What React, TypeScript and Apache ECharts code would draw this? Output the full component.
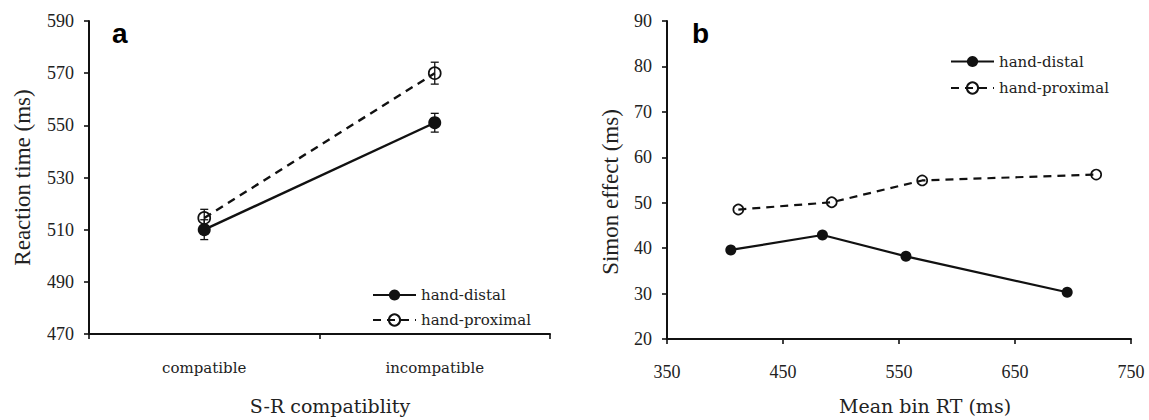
import React, { useEffect, useRef } from "react";
import * as echarts from "echarts";

// Panel a: reaction time by S-R compatibility
const categories = ["compatible", "incompatible"];
const distalRT = [510, 551];
const distalErr = [3.8, 3.6];
const proximalRT = [514.5, 570];
const proximalErr = [3.3, 4.2];

// Panel b: Simon effect by mean bin RT
const distalBinRT = [405, 484, 556, 695];
const distalSimon = [39.6, 42.9, 38.2, 30.3];
const proximalBinRT = [411.5, 492, 570, 720];
const proximalSimon = [48.5, 50.1, 54.9, 56.2];

const seriesNames = ["hand-distal", "hand-proximal"];

const INK = "#111";
const TEXT = "#222";

function errorBarSeries(values: number[], errs: number[]) {
  return {
    type: "custom",
    xAxisIndex: 0,
    yAxisIndex: 0,
    silent: true,
    z: 3,
    data: values.map((v, i) => [i, v, errs[i]]),
    renderItem: (params: any, api: any) => {
      const x = api.value(0);
      const y = api.value(1);
      const e = api.value(2);
      const top = api.coord([x, y + e]);
      const bot = api.coord([x, y - e]);
      const hw = 4;
      const style = { stroke: INK, lineWidth: 1.3 };
      return {
        type: "group",
        children: [
          { type: "line", shape: { x1: top[0], y1: top[1], x2: bot[0], y2: bot[1] }, style },
          { type: "line", shape: { x1: top[0] - hw, y1: top[1], x2: top[0] + hw, y2: top[1] }, style },
          { type: "line", shape: { x1: bot[0] - hw, y1: bot[1], x2: bot[0] + hw, y2: bot[1] }, style },
        ],
      };
    },
  };
}

const axisLine = { show: true, lineStyle: { color: INK, width: 2 } };
const axisTick = { show: true, length: 5, lineStyle: { color: INK, width: 1.6 } };

export default function App() {
  const ref = useRef<HTMLDivElement>(null);
  useEffect(() => {
    if (!ref.current) return;
    const chart = echarts.init(ref.current, undefined, { renderer: "svg" });
    const legendBase = {
      data: seriesNames,
      orient: "vertical",
      itemWidth: 43,
      itemHeight: 14,
      padding: 0,
      selectedMode: false,
      textStyle: { fontFamily: "DejaVu Serif", fontSize: 15, color: TEXT, lineHeight: 14 },
    };
    chart.setOption({
      animation: false,
      backgroundColor: "#fff",
      grid: [
        { left: 89, top: 21, width: 461, height: 316 },
        { left: 667, top: 21, width: 464, height: 321 },
      ],
      legend: [
        { ...legendBase, left: 372, top: 287.5, itemGap: 10 },
        { ...legendBase, left: 950, top: 54, itemGap: 11.5 },
      ],
      xAxis: [
        {
          type: "category",
          gridIndex: 0,
          data: categories,
          boundaryGap: true,
          axisLine,
          axisTick,
          splitLine: { show: false },
          axisLabel: { margin: 26, fontFamily: "DejaVu Serif", fontSize: 15, color: TEXT },
          name: "S-R compatiblity",
          nameLocation: "middle",
          nameGap: 62,
          nameTextStyle: { fontFamily: "DejaVu Serif", fontSize: 19, color: TEXT, padding: [0, 0, 0, 21] },
        },
        {
          type: "value",
          gridIndex: 1,
          min: 350,
          max: 750,
          interval: 100,
          axisLine,
          axisTick,
          splitLine: { show: false },
          axisLabel: { margin: 24, fontFamily: "Liberation Serif", fontSize: 18, color: TEXT },
          name: "Mean bin RT (ms)",
          nameLocation: "middle",
          nameGap: 57,
          nameTextStyle: { fontFamily: "DejaVu Serif", fontSize: 19, color: TEXT, padding: [0, 0, 0, 52] },
        },
      ],
      yAxis: [
        {
          type: "value",
          gridIndex: 0,
          min: 470,
          max: 590,
          interval: 20,
          axisLine,
          axisTick,
          splitLine: { show: false },
          axisLabel: { margin: 15, fontFamily: "Liberation Serif", fontSize: 18, color: TEXT },
          name: "Reaction time (ms)",
          nameLocation: "middle",
          nameGap: 55,
          nameTextStyle: { fontFamily: "Liberation Serif", fontSize: 23, color: TEXT },
        },
        {
          type: "value",
          gridIndex: 1,
          min: 20,
          max: 90,
          interval: 10,
          axisLine,
          axisTick,
          splitLine: { show: false },
          axisLabel: { margin: 15, fontFamily: "Liberation Serif", fontSize: 18, color: TEXT },
          name: "Simon effect (ms)",
          nameLocation: "middle",
          nameGap: 45,
          nameTextStyle: { fontFamily: "Liberation Serif", fontSize: 23, color: TEXT, padding: [0, 24, 0, 0] },
        },
      ],
      graphic: [
        { type: "text", left: 112, top: 19, style: { text: "a", font: "bold 28px 'Liberation Sans'", fill: "#000" } },
        { type: "text", left: 692, top: 19, style: { text: "b", font: "bold 28px 'Liberation Sans'", fill: "#000" } },
      ],
      series: [
        {
          name: "hand-distal",
          type: "line",
          xAxisIndex: 0,
          yAxisIndex: 0,
          data: distalRT,
          symbol: "circle",
          symbolSize: 13,
          itemStyle: { color: INK },
          lineStyle: { color: INK, width: 2.4, type: "solid" },
          z: 4,
        },
        {
          name: "hand-proximal",
          type: "line",
          xAxisIndex: 0,
          yAxisIndex: 0,
          data: proximalRT,
          symbol: "circle",
          symbolSize: 12,
          itemStyle: { color: "rgba(255,255,255,0)", borderColor: INK, borderWidth: 1.7 },
          lineStyle: { color: INK, width: 2.4, type: [8, 6] },
          z: 4,
        },
        errorBarSeries(distalRT, distalErr),
        errorBarSeries(proximalRT, proximalErr),
        {
          name: "hand-distal",
          type: "line",
          xAxisIndex: 1,
          yAxisIndex: 1,
          data: distalBinRT.map((x, i) => [x, distalSimon[i]]),
          symbol: "circle",
          symbolSize: 11,
          itemStyle: { color: INK },
          lineStyle: { color: INK, width: 2.2, type: "solid" },
        },
        {
          name: "hand-proximal",
          type: "line",
          xAxisIndex: 1,
          yAxisIndex: 1,
          data: proximalBinRT.map((x, i) => [x, proximalSimon[i]]),
          symbol: "circle",
          symbolSize: 10,
          itemStyle: { color: "rgba(255,255,255,0)", borderColor: INK, borderWidth: 1.7 },
          lineStyle: { color: INK, width: 2.2, type: [8, 6] },
        },
      ],
    });
    return () => chart.dispose();
  }, []);
  return (
    <div
      ref={ref}
      style={{ position: "absolute", left: 0, top: 0, width: 1149, height: 420, background: "#fff" }}
    />
  );
}
